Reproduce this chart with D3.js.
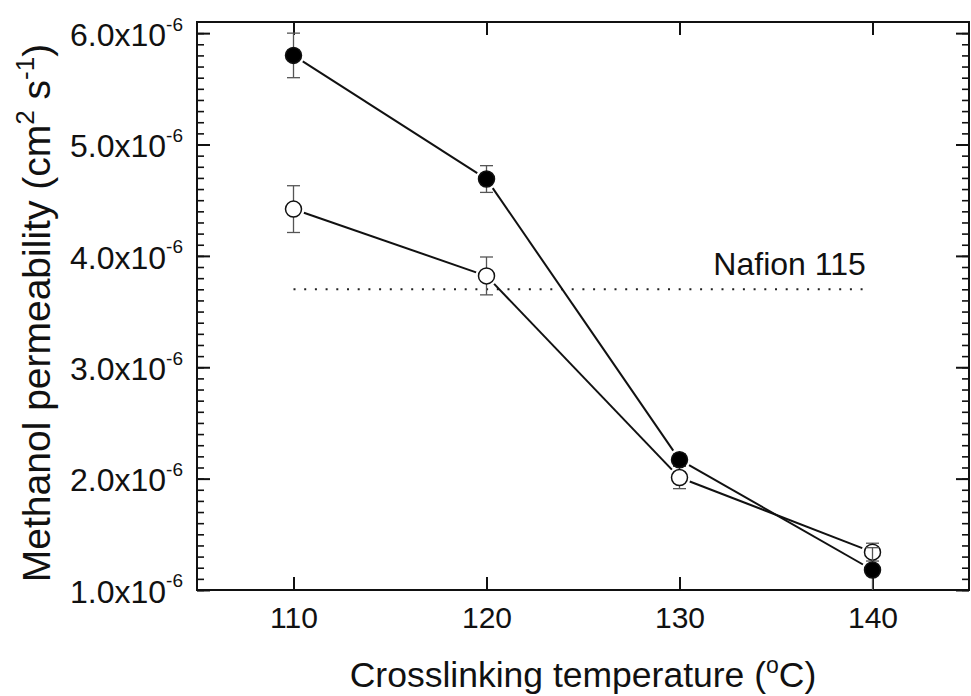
<!DOCTYPE html>
<html>
<head>
<meta charset="utf-8">
<script src="https://cdn.jsdelivr.net/npm/d3@7"></script>
<style>
  body { margin: 0; background: #fff; }
  svg { font-family: "Liberation Sans", Arial, sans-serif; }
</style>
</head>
<body>
<svg id="chart" width="971" height="696"></svg>
<script>
"use strict";

// data (permeability in 1e-6 cm2/s)
var temps = [110, 120, 130, 140]
var filledVals = [5.80, 4.69, 2.17, 1.18]
var filledErr = [0.20, 0.12, 0.05, 0.20]
var openVals = [4.42, 3.82, 2.01, 1.34]
var openErr = [0.21, 0.17, 0.10, 0.08]
var nafionVal = 3.70
var nafionRange = [110, 139.6]
var xTicks = [110, 120, 130, 140]
var yMajor = [1, 2, 3, 4, 5, 6]
var yMinor = d3.range(1, 6.1, 0.1)

var margin = {top: 22, right: 2, bottom: 106, left: 197}
var svg = d3.select("#chart")
var width = +svg.attr("width") - margin.left - margin.right
var height = +svg.attr("height") - margin.top - margin.bottom

var x = d3.scaleLinear().domain([105, 145]).range([0, width])
var y = d3.scaleLinear().domain([1.0, 6.1]).range([height, 0])

var g = svg.append("g")
    .attr("transform", "translate(" + margin.left + "," + margin.top + ")")

g.append("clipPath").attr("id", "clip")
  .append("rect").attr("width", width).attr("height", height)

function styleAxis(sel, w) {
    sel.select(".domain").remove()
    sel.selectAll("line").attr("stroke", "#111").attr("stroke-width", w)
}

// minor ticks, left and right
g.append("g").call(d3.axisLeft(y).tickValues(yMinor).tickSize(-7).tickFormat(""))
    .call(styleAxis, 1.6)
g.append("g").attr("transform", "translate(" + width + ",0)")
    .call(d3.axisRight(y).tickValues(yMinor).tickSize(-7).tickFormat(""))
    .call(styleAxis, 1.6)

// major ticks
var yAxis = g.append("g").call(d3.axisLeft(y).tickValues(yMajor).tickSize(-13).tickPadding(14))
    .call(styleAxis, 2)
g.append("g").attr("transform", "translate(" + width + ",0)")
    .call(d3.axisRight(y).tickValues(yMajor).tickSize(-13).tickFormat(""))
    .call(styleAxis, 2)
var xAxis = g.append("g").attr("transform", "translate(0," + height + ")")
    .call(d3.axisBottom(x).tickValues(xTicks).tickSize(-13).tickPadding(17))
    .call(styleAxis, 2)
g.append("g")
    .call(d3.axisTop(x).tickValues(xTicks).tickSize(-13).tickFormat(""))
    .call(styleAxis, 2)

xAxis.selectAll("text")
    .attr("font-size", 30).attr("fill", "#111")
    .attr("font-family", "Liberation Sans, Arial, sans-serif")

yAxis.selectAll("text").each(function (d) {
    var t = d3.select(this)
    t.text(null)
      .attr("font-size", 32).attr("fill", "#111")
      .attr("font-family", "Liberation Sans, Arial, sans-serif")
      .attr("dy", "0.38em")
    t.append("tspan").text(d.toFixed(1) + "x10")
    t.append("tspan").attr("font-size", 19).attr("dy", "-0.8em").text("-6")
})

// frame
g.append("rect")
    .attr("width", width).attr("height", height)
    .attr("fill", "none").attr("stroke", "#111").attr("stroke-width", 2)

// Nafion 115 reference line
g.append("line")
    .attr("x1", x(nafionRange[0])).attr("x2", x(nafionRange[1]))
    .attr("y1", y(nafionVal)).attr("y2", y(nafionVal))
    .attr("stroke", "#222").attr("stroke-width", 2)
    .attr("stroke-dasharray", "2,8.7")
g.append("text")
    .attr("x", x(nafionRange[1]) + 1).attr("y", y(nafionVal) - 14)
    .attr("text-anchor", "end").attr("font-size", 32).attr("fill", "#111")
    .text("Nafion 115")

var r = 8
var plot = g.append("g").attr("clip-path", "url(#clip)")

function drawSeries(vals, errs, fill) {
    var pts = temps.map((t, i) => ({px: x(t), py: y(vals[i]), lo: y(vals[i] - errs[i]), hi: y(vals[i] + errs[i])}))

    // connecting segments, stopped short of the markers
    var segs = d3.pairs(pts).map(([a, b]) => {
        var dx = b.px - a.px, dy = b.py - a.py, len = Math.hypot(dx, dy), k = (r + 3) / len
        return {x1: a.px + dx * k, y1: a.py + dy * k, x2: b.px - dx * k, y2: b.py - dy * k}
    })
    plot.selectAll(null).data(segs).join("line")
        .attr("x1", d => d.x1).attr("y1", d => d.y1)
        .attr("x2", d => d.x2).attr("y2", d => d.y2)
        .attr("stroke", "#111").attr("stroke-width", 2)

    // error bars
    var eb = plot.selectAll(null).data(pts).join("g").attr("stroke", "#555").attr("stroke-width", 1.3)
    eb.append("line").attr("x1", d => d.px).attr("x2", d => d.px).attr("y1", d => d.lo).attr("y2", d => d.hi)
    eb.append("line").attr("x1", d => d.px - 6.5).attr("x2", d => d.px + 6.5).attr("y1", d => d.lo).attr("y2", d => d.lo)
    eb.append("line").attr("x1", d => d.px - 6.5).attr("x2", d => d.px + 6.5).attr("y1", d => d.hi).attr("y2", d => d.hi)

    plot.selectAll(null).data(pts).join("circle")
        .attr("cx", d => d.px).attr("cy", d => d.py).attr("r", r)
        .attr("fill", fill).attr("stroke", "#111").attr("stroke-width", 1.5)
}

drawSeries(openVals, openErr, "#fff")
drawSeries(filledVals, filledErr, "#000")

// axis titles
var xt = svg.append("text")
    .attr("x", margin.left + width / 2).attr("y", 687)
    .attr("text-anchor", "middle").attr("font-size", 35.5).attr("fill", "#111")
xt.append("tspan").text("Crosslinking temperature (")
xt.append("tspan").attr("font-size", 23).attr("dy", "-0.6em").text("o")
xt.append("tspan").attr("dy", "0.4em").text("C)")

var yt = svg.append("text")
    .attr("transform", "translate(50,313) rotate(-90)")
    .attr("text-anchor", "middle").attr("font-size", 39).attr("fill", "#111")
yt.append("tspan").text("Methanol permeability (cm")
yt.append("tspan").attr("font-size", 26).attr("dy", "-0.6em").text("2")
yt.append("tspan").attr("dy", "0.4em").text(" s")
yt.append("tspan").attr("font-size", 26).attr("dy", "-0.6em").text("-1")
yt.append("tspan").attr("dy", "0.4em").text(")")
</script>
</body>
</html>
